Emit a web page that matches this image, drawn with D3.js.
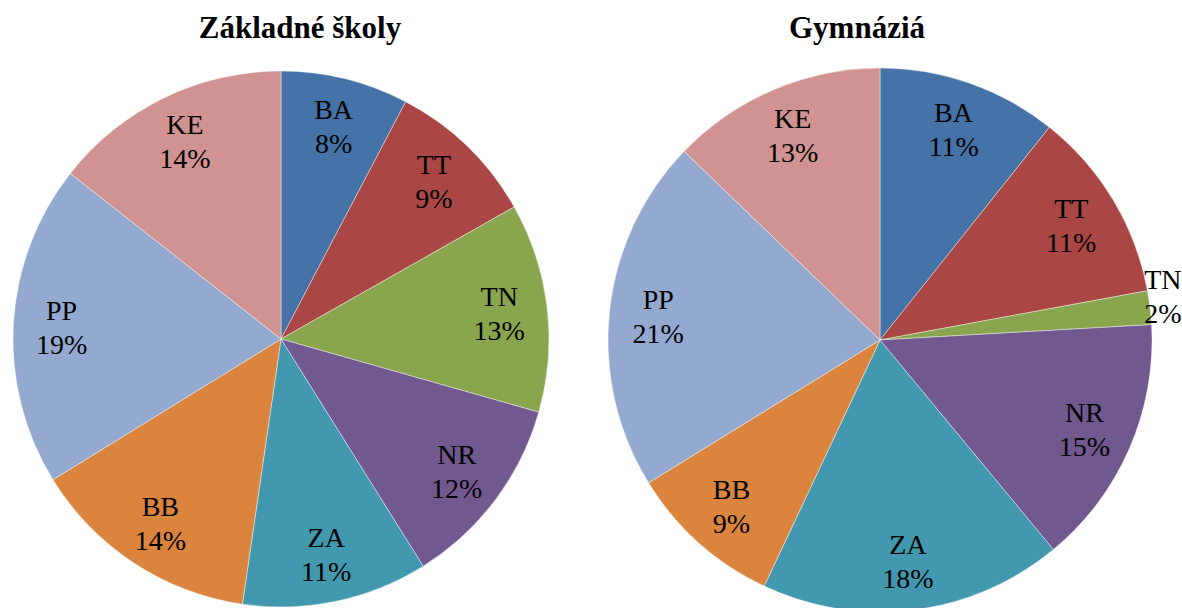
<!DOCTYPE html>
<html>
<head>
<meta charset="utf-8">
<script src="https://cdn.jsdelivr.net/npm/d3@7"></script>
<style>
  html, body { margin: 0; padding: 0; background: #fff; }
  svg { display: block; }
  svg text { font-family: "Liberation Serif", "Times New Roman", Times, "DejaVu Serif", serif; }
</style>
</head>
<body>
<svg id="chart" width="1182" height="608"></svg>
<script>
const categories = ["BA", "TT", "TN", "NR", "ZA", "BB", "PP", "KE"];
const zakladneValues = [7.7, 9.1, 12.6, 11.7, 11.2, 13.9, 19.4, 14.4];
const gymnaziaValues = [10.7, 11.4, 2.0, 14.9, 18.0, 9.2, 21.0, 12.8];
const sliceColors = ["#4572A7", "#AA4643", "#89A54E", "#71588F", "#4198AF", "#DB843D", "#93A9CF", "#D19392"];
const titles = ["Základné školy", "Gymnáziá"];

const svg = d3.select("#chart");
const color = d3.scaleOrdinal().domain(categories).range(sliceColors);

const layouts = [
  { values: zakladneValues, cx: 281, cy: 339, r: 268, titleX: 300 },
  { values: gymnaziaValues, cx: 880, cy: 340, r: 272, titleX: 857 }
];

const pie = d3.pie().sort(null).value(d => d.value);

layouts.forEach((L, i) => {
  const data = categories.map((c, k) => ({ cat: c, value: L.values[k] }));
  const total = d3.sum(data, d => d.value);
  const arcs = pie(data);
  const arc = d3.arc().innerRadius(0).outerRadius(L.r);
  const labelArc = d3.arc().innerRadius(L.r * 0.82).outerRadius(L.r * 0.82);
  const outArc = d3.arc().innerRadius(L.r * 1.04).outerRadius(L.r * 1.04);

  const g = svg.append("g").attr("transform", `translate(${L.cx},${L.cy})`);
  g.selectAll("path").data(arcs).join("path")
    .attr("d", arc)
    .attr("fill", d => color(d.data.cat))
    .attr("stroke", "#ffffff")
    .attr("stroke-width", 0.6)
    .attr("stroke-opacity", 0.7);

  const lbl = g.selectAll("text.lbl").data(arcs).join("text")
    .attr("class", "lbl")
    .attr("font-size", 28)
    .attr("fill", "#000")
    .attr("text-anchor", "middle")
    .attr("transform", d => {
      const share = d.data.value / total;
      if (share < 0.05) {
        const p = outArc.centroid(d);
        return `translate(${p[0] + 2},${p[1] - 9})`;
      }
      const p = labelArc.centroid(d);
      return `translate(${p[0]},${p[1] + 1})`;
    });
  lbl.append("tspan").attr("x", 0).attr("y", -8).text(d => d.data.cat);
  lbl.append("tspan").attr("x", 0).attr("y", 26)
    .text(d => Math.round(d.data.value / total * 100) + "%");

  svg.append("text")
    .attr("x", L.titleX)
    .attr("y", 38)
    .attr("text-anchor", "middle")
    .attr("font-weight", "bold")
    .attr("font-size", 31)
    .attr("fill", "#000")
    .text(titles[i]);
});
</script>
</body>
</html>
